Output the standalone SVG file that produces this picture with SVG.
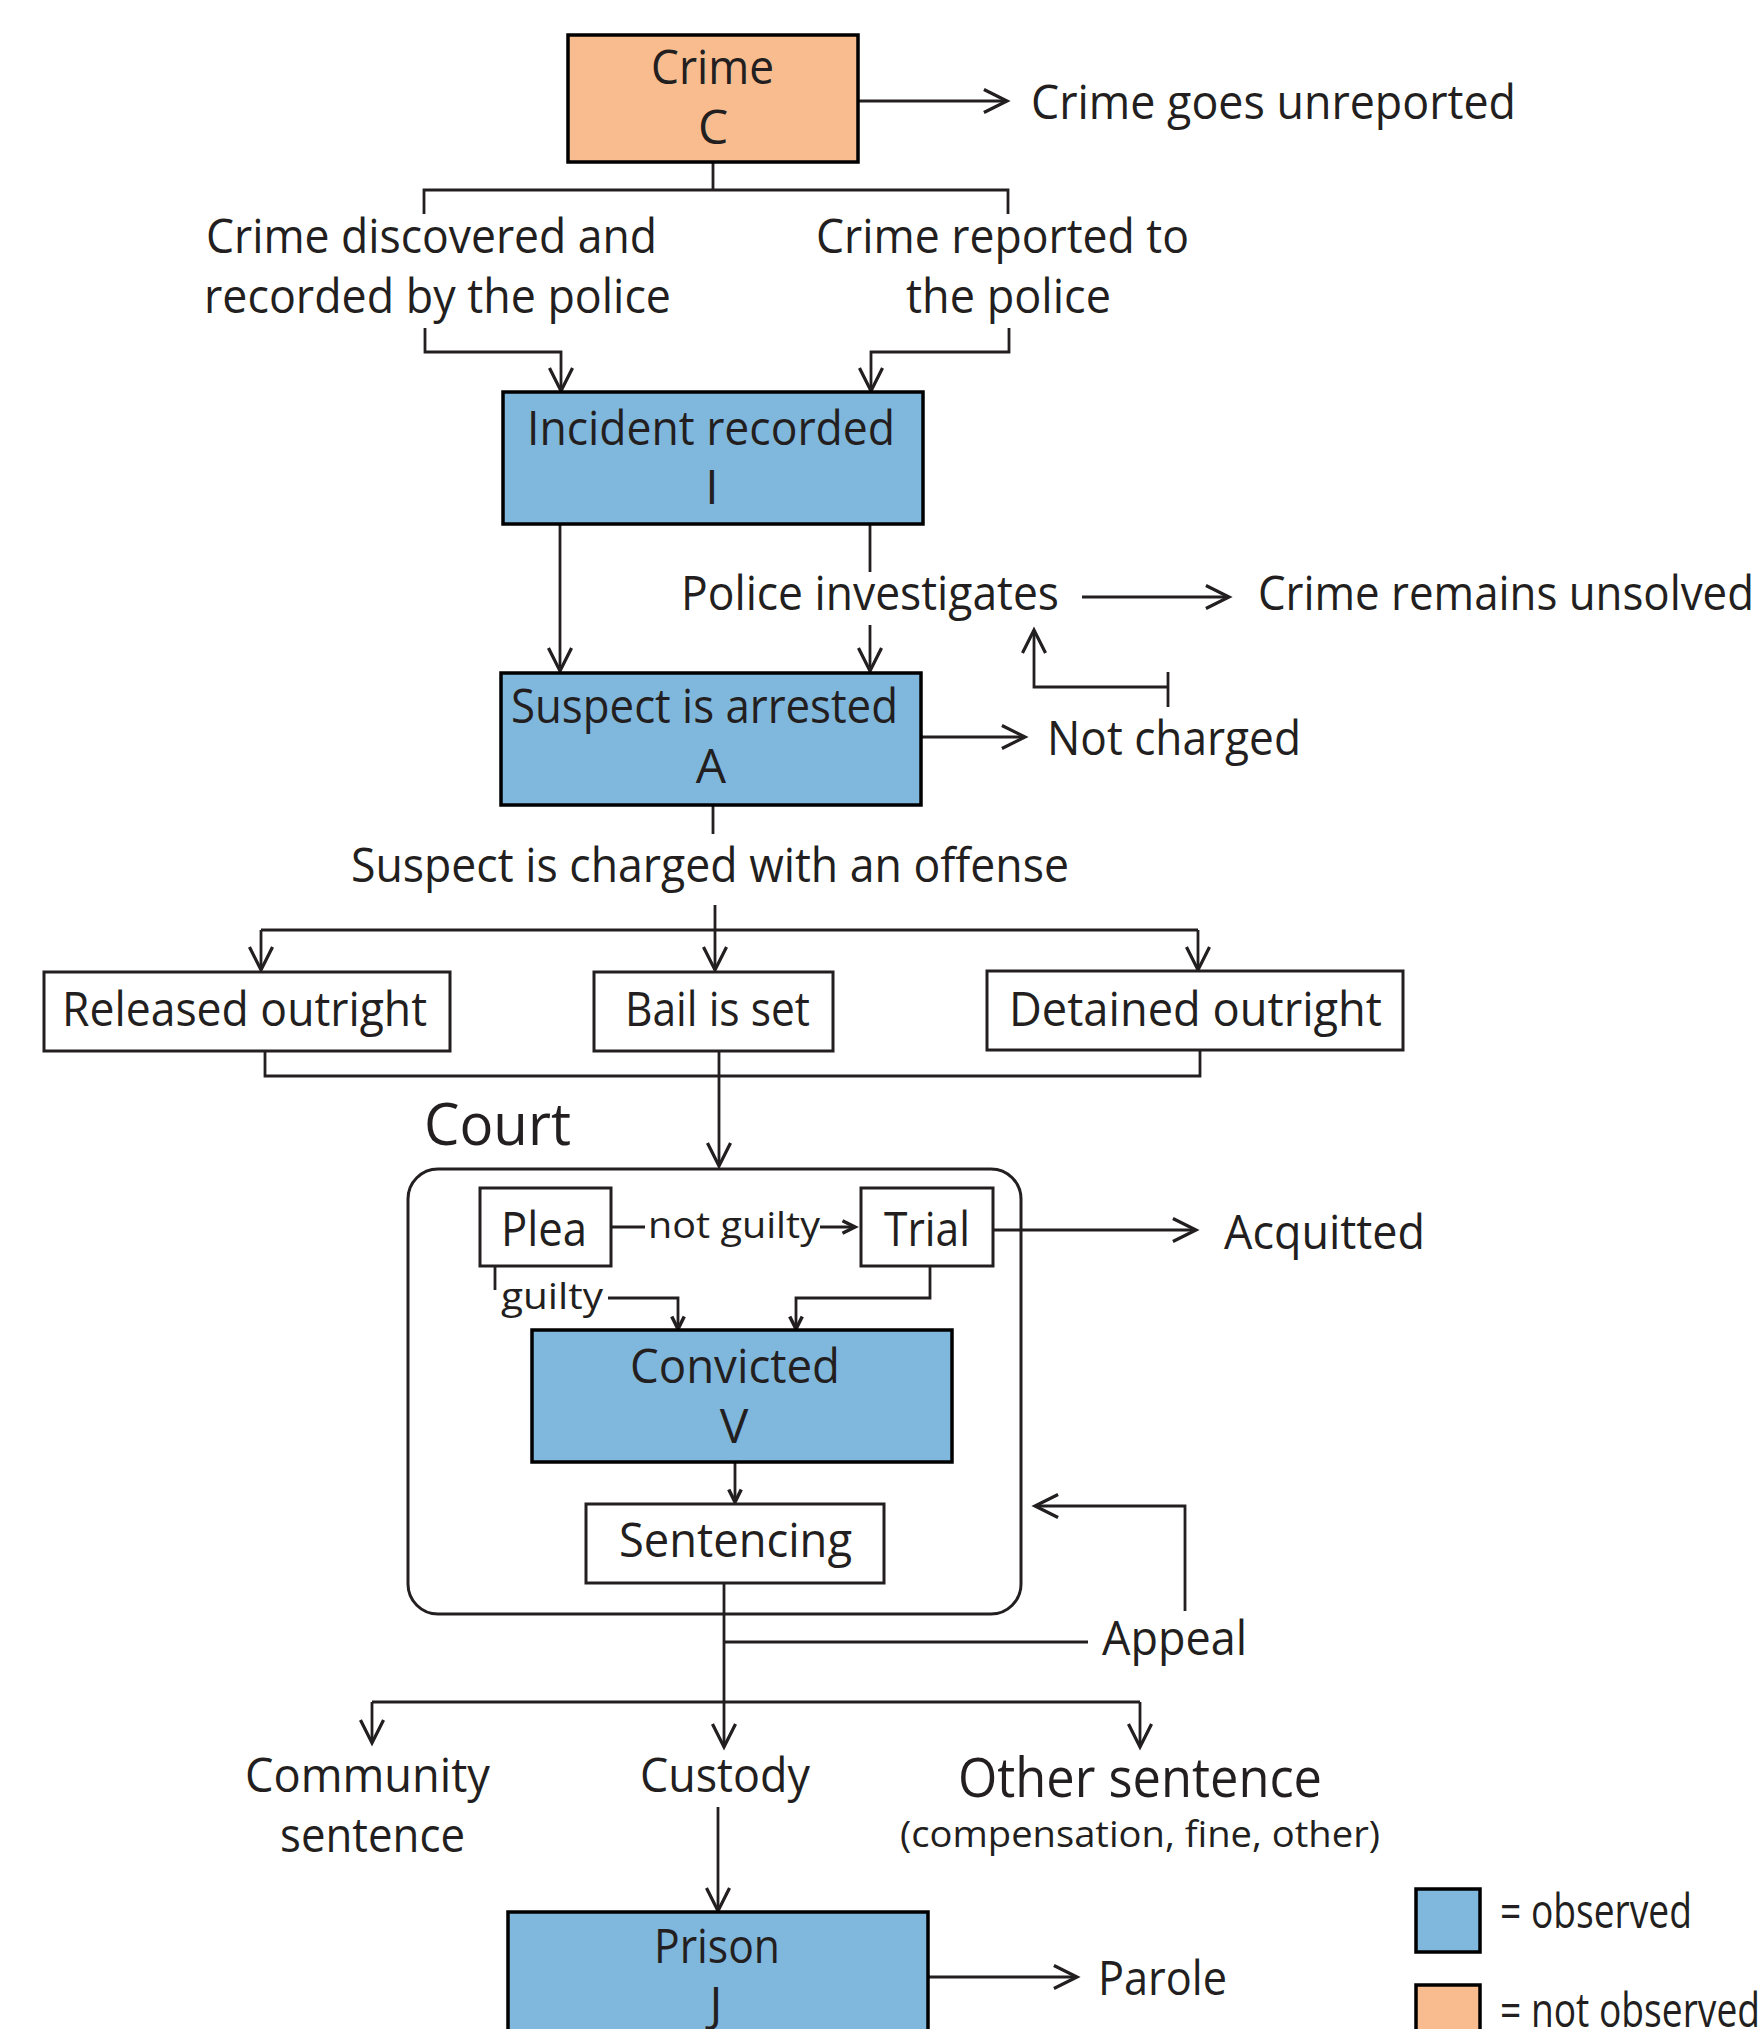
<svg xmlns="http://www.w3.org/2000/svg" width="1764" height="2029" viewBox="0 0 1764 2029">
<defs>
<style>
.t{font-family:"Open Sans","Noto Sans","Liberation Sans",sans-serif;font-size:48px;fill:#231f20}
.m{text-anchor:middle}
.s{font-size:37px}
.b{font-size:58px}
.box{stroke:#000;stroke-width:3.5}
.obs{fill:#80b7dd}
.nob{fill:#f8bc8f}
.wh{fill:#fff;stroke:#231f20;stroke-width:3}
.c{fill:none;stroke:#231f20;stroke-width:2.8}
.ca{fill:none;stroke:#231f20;stroke-width:2.8;marker-end:url(#ah)}
.cs{fill:none;stroke:#231f20;stroke-width:2.8;marker-end:url(#as)}
</style>
<marker id="ah" markerUnits="userSpaceOnUse" markerWidth="30" markerHeight="30" viewBox="-22 -12 26 24" refX="0" refY="0" orient="auto">
<path d="M-20,-10 L0,0 L-20,10" fill="none" stroke="#231f20" stroke-width="2.8"/>
</marker>
<marker id="as" markerUnits="userSpaceOnUse" markerWidth="20" markerHeight="20" viewBox="-12 -8 14 16" refX="0" refY="0" orient="auto">
<path d="M-10,-5 L0,0 L-10,5" fill="none" stroke="#231f20" stroke-width="2.8"/>
</marker>
</defs>
<rect width="1764" height="2029" fill="#fff"/>

<g id="connectors">
<path class="ca" d="M858,101 H1007"/>
<path class="c" d="M713,162 V190 M424,214 V190 H1008 V214"/>
<path class="ca" d="M425,328 V352 H561 V391"/>
<path class="ca" d="M1009,328 V352 H871 V391"/>
<path class="ca" d="M560,524 V671"/>
<path class="c" d="M870,524 V572"/>
<path class="ca" d="M870,625 V671"/>
<path class="ca" d="M1082,597 H1229"/>
<path class="ca" d="M1168,687 H1034 V630"/>
<path class="c" d="M1168,672 V707"/>
<path class="ca" d="M920,737 H1025"/>
<path class="c" d="M713,805 V834"/>
<path class="ca" d="M715,905 V970"/>
<path class="ca" d="M261,930 V970"/>
<path class="c" d="M261,930 H1198"/>
<path class="ca" d="M1198,930 V970"/>
<path class="c" d="M265,1051 V1076 H1200 V1050"/>
<path class="ca" d="M719,1052 V1166"/>
<path class="c" d="M611,1227 H645"/>
<path class="cs" d="M820,1227 H855"/>
<path class="ca" d="M993,1230 H1196"/>
<path class="c" d="M495,1266 V1290"/>
<path class="cs" d="M608,1298 H678 V1329"/>
<path class="cs" d="M930,1266 V1298 H796 V1329"/>
<path class="cs" d="M735,1462 V1502"/>
<path class="ca" d="M724,1583 V1747"/>
<path class="c" d="M724,1642 H1088"/>
<path class="ca" d="M1185,1611 V1506 H1035"/>
<path class="c" d="M372,1702 H1140"/>
<path class="ca" d="M372,1702 V1743"/>
<path class="ca" d="M1140,1702 V1747"/>
<path class="ca" d="M718,1807 V1911"/>
<path class="ca" d="M928,1977 H1077"/>
</g>

<g id="crime">
<rect class="box nob" x="568" y="35" width="290" height="127"/>
<text class="t" x="651" y="84" textLength="123" lengthAdjust="spacingAndGlyphs">Crime</text>
<text class="t m" x="713" y="144">C</text>
</g>
<g id="unreported"><text class="t" x="1031" y="119" textLength="485" lengthAdjust="spacingAndGlyphs">Crime goes unreported</text></g>
<g id="discovered">
<text class="t" x="206" y="253" textLength="451" lengthAdjust="spacingAndGlyphs">Crime discovered and</text>
<text class="t" x="204" y="313" textLength="467" lengthAdjust="spacingAndGlyphs">recorded by the police</text>
</g>
<g id="reported">
<text class="t" x="816" y="253" textLength="373" lengthAdjust="spacingAndGlyphs">Crime reported to</text>
<text class="t" x="906" y="313" textLength="205" lengthAdjust="spacingAndGlyphs">the police</text>
</g>
<g id="incident">
<rect class="box obs" x="503" y="392" width="420" height="132"/>
<text class="t" x="527" y="445" textLength="368" lengthAdjust="spacingAndGlyphs">Incident recorded</text>
<text class="t m" x="712" y="504">I</text>
</g>
<g id="investigates"><text class="t" x="681" y="610" textLength="378" lengthAdjust="spacingAndGlyphs">Police investigates</text></g>
<g id="unsolved"><text class="t" x="1258" y="610" textLength="496" lengthAdjust="spacingAndGlyphs">Crime remains unsolved</text></g>
<g id="arrested">
<rect class="box obs" x="501" y="673" width="420" height="132"/>
<text class="t" x="511" y="723" textLength="387" lengthAdjust="spacingAndGlyphs">Suspect is arrested</text>
<text class="t m" x="711" y="783">A</text>
</g>
<g id="notcharged"><text class="t" x="1047" y="755" textLength="254" lengthAdjust="spacingAndGlyphs">Not charged</text></g>
<g id="charged"><text class="t" x="351" y="882" textLength="718" lengthAdjust="spacingAndGlyphs">Suspect is charged with an offense</text></g>
<g id="released">
<rect class="wh" x="44" y="972" width="406" height="79"/>
<text class="t" x="62" y="1026" textLength="365" lengthAdjust="spacingAndGlyphs">Released outright</text>
</g>
<g id="bail">
<rect class="wh" x="594" y="972" width="239" height="79"/>
<text class="t" x="625" y="1026" textLength="185" lengthAdjust="spacingAndGlyphs">Bail is set</text>
</g>
<g id="detained">
<rect class="wh" x="987" y="971" width="416" height="79"/>
<text class="t" x="1009" y="1026" textLength="373" lengthAdjust="spacingAndGlyphs">Detained outright</text>
</g>
<g id="court">
<text class="t b" x="424" y="1145" textLength="147" lengthAdjust="spacingAndGlyphs">Court</text>
<rect x="408" y="1169" width="613" height="445" rx="30" fill="none" stroke="#231f20" stroke-width="3"/>
</g>
<g id="plea">
<rect class="wh" x="480" y="1188" width="131" height="78"/>
<text class="t" x="501" y="1246" textLength="86" lengthAdjust="spacingAndGlyphs">Plea</text>
</g>
<g id="notguilty"><text class="t s" x="648" y="1238" textLength="172" lengthAdjust="spacingAndGlyphs">not guilty</text></g>
<g id="trial">
<rect class="wh" x="861" y="1188" width="132" height="78"/>
<text class="t" x="884" y="1246" textLength="86" lengthAdjust="spacingAndGlyphs">Trial</text>
</g>
<g id="acquitted"><text class="t" x="1224" y="1249" textLength="201" lengthAdjust="spacingAndGlyphs">Acquitted</text></g>
<g id="guilty"><text class="t s" x="501" y="1309" textLength="102" lengthAdjust="spacingAndGlyphs">guilty</text></g>
<g id="convicted">
<rect class="box obs" x="532" y="1330" width="420" height="132"/>
<text class="t" x="630" y="1383" textLength="210" lengthAdjust="spacingAndGlyphs">Convicted</text>
<text class="t m" x="734" y="1443">V</text>
</g>
<g id="sentencing">
<rect class="wh" x="586" y="1504" width="298" height="79"/>
<text class="t" x="619" y="1557" textLength="233" lengthAdjust="spacingAndGlyphs">Sentencing</text>
</g>
<g id="appeal"><text class="t" x="1102" y="1655" textLength="145" lengthAdjust="spacingAndGlyphs">Appeal</text></g>
<g id="community">
<text class="t" x="245" y="1792" textLength="245" lengthAdjust="spacingAndGlyphs">Community</text>
<text class="t" x="280" y="1852" textLength="185" lengthAdjust="spacingAndGlyphs">sentence</text>
</g>
<g id="custody"><text class="t" x="640" y="1792" textLength="170" lengthAdjust="spacingAndGlyphs">Custody</text></g>
<g id="other">
<text class="t" x="958" y="1797" font-size="55" style="font-size:55px" textLength="364" lengthAdjust="spacingAndGlyphs">Other sentence</text>
<text class="t s" x="900" y="1847" textLength="480" lengthAdjust="spacingAndGlyphs">(compensation, fine, other)</text>
</g>
<g id="prison">
<rect class="box obs" x="508" y="1912" width="420" height="140"/>
<text class="t" x="654" y="1963" textLength="126" lengthAdjust="spacingAndGlyphs">Prison</text>
<text class="t m" x="716" y="2021">J</text>
</g>
<g id="parole"><text class="t" x="1098" y="1995" textLength="129" lengthAdjust="spacingAndGlyphs">Parole</text></g>
<g id="legend">
<rect class="box obs" x="1416" y="1889" width="64" height="63"/>
<text class="t" x="1500" y="1928" textLength="192" lengthAdjust="spacingAndGlyphs">= observed</text>
<rect class="box nob" x="1416" y="1985" width="64" height="63"/>
<text class="t" x="1500" y="2027" textLength="260" lengthAdjust="spacingAndGlyphs">= not observed</text>
</g>
</svg>
